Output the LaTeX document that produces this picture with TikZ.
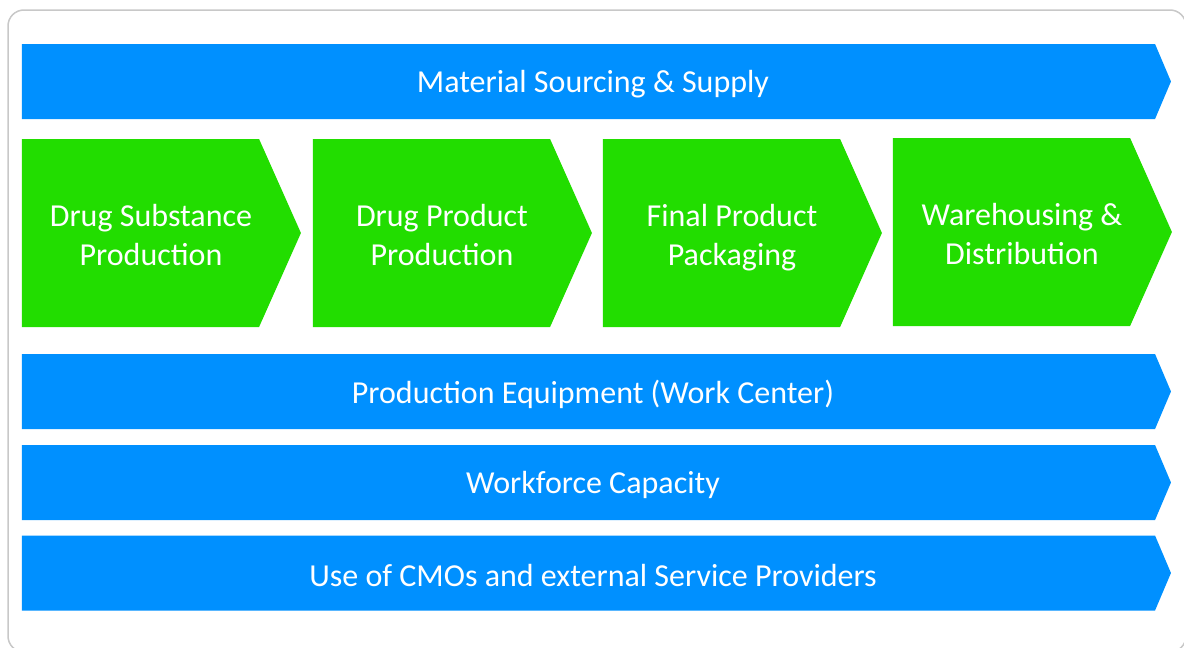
\documentclass[tikz,border=0pt]{standalone}
\usepackage{fontspec}
\setmainfont{Carlito}
\usetikzlibrary{shapes.symbols}
\definecolor{barblue}{RGB}{0,144,255}
\definecolor{stagegreen}{RGB}{34,221,0}
\definecolor{framegray}{RGB}{200,200,200}

\begin{document}
\begin{tikzpicture}[x=0.5pt,y=-0.5pt,
    bar node/.style={signal,signal to=east,fill=barblue,inner sep=0pt,
      minimum width=574.5pt,minimum height=37.5pt,signal pointer angle=134},
    stage node/.style={signal,signal to=east,fill=stagegreen,inner sep=0pt,
      minimum width=139.5pt,minimum height=94pt,signal pointer angle=132},
    label text/.style={text=white,align=center,inner sep=0pt,
      font=\fontsize{16}{19.5}\selectfont}]
  \useasboundingbox (0,0) rectangle (1184,648);
  % frame round the whole chart
  \draw[framegray,line width=0.75pt,rounded corners=8pt] (8,10) rectangle (1186,652);
  % supply bar on top
  \node[bar node] (supply) at (588.5,81.5) {};
  \node[label text] (supply text) at ([xshift=2.25pt,yshift=-1.25pt]supply.center) {Material Sourcing \& Supply};
  % the four stages
  \node[stage node] (substance) at (140.5,233) {};
  \node[stage node] (product) at (431.5,233) {};
  \node[stage node] (packaging) at (721.5,233) {};
  \node[stage node] (warehouse) at (1011.5,232) {};
  \node[label text] (substance text) at ([xshift=5.25pt,yshift=-1pt]substance.center) {Drug Substance\\Production};
  \node[label text] (product text) at ([xshift=5.25pt,yshift=-1pt]product.center) {Drug Product\\Production};
  \node[label text] (packaging text) at ([xshift=5.25pt,yshift=-2.5pt]packaging.center) {Final Product\\Packaging};
  \node[label text] (warehouse text) at ([xshift=5.25pt,yshift=-1pt]warehouse.center) {Warehousing \&\\Distribution};
  % resources below
  \node[bar node] (equipment) at (588.5,391.5) {};
  \node[bar node] (workforce) at (588.5,482.5) {};
  \node[bar node] (cmo) at (588.5,573) {};
  \node[label text] (equipment text) at ([xshift=2.25pt,yshift=-1.25pt]equipment.center) {Production Equipment (Work Center)};
  \node[label text] (workforce text) at ([xshift=2.25pt,yshift=-1.25pt]workforce.center) {Workforce Capacity};
  \node[label text] (cmo text) at ([xshift=2.25pt,yshift=-1.25pt]cmo.center) {Use of CMOs and external Service Providers};
\end{tikzpicture}
\end{document}
